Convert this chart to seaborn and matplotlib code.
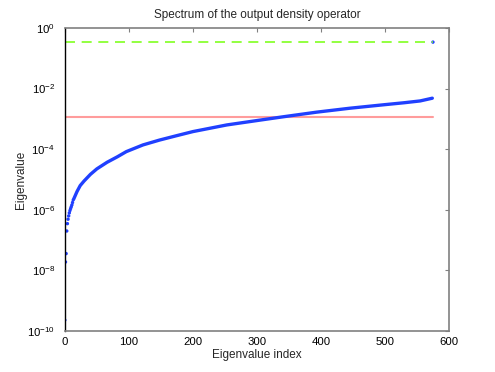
"""Spectrum of the output density operator (log-scale eigenvalue plot)."""

import matplotlib

matplotlib.use("Agg")
import matplotlib.pyplot as plt
import pandas as pd
import seaborn as sns

# isolated small eigenvalues at the start of the spectrum
early_idx = [0, 1, 2, 3, 4, 5, 6, 7, 8, 9, 10, 11, 12]
early_val = [2.3e-10, 1.9e-8, 3.6e-8, 2.0e-7, 3.5e-7, 4.9e-7, 6.3e-7,
             7.9e-7, 9.5e-7, 1.1e-6, 1.26e-6, 1.45e-6, 1.74e-6]

# dense part of the spectrum
curve_idx = [13, 14, 19, 24, 30, 40, 50, 66, 82, 96, 122, 148, 175, 200,
             253, 305, 341, 393, 445, 497, 530, 555, 574]
curve_val = [2.1e-6, 2.3e-6, 4.0e-6, 6.3e-6, 8.9e-6, 1.48e-5, 2.24e-5,
             3.7e-5, 5.6e-5, 8.3e-5, 1.38e-4, 2.0e-4, 2.8e-4, 3.8e-4,
             6.3e-4, 9.1e-4, 1.17e-3, 1.66e-3, 2.24e-3, 2.9e-3, 3.4e-3,
             3.9e-3, 4.8e-3]

# largest eigenvalue
top_idx = [575]
top_val = [0.34]

# reference levels
level_x = [0, 575]
green_level = 0.34
red_level = 1.17e-3

BLUE = "#2040ff"
GREEN = "#80ff20"
RED = "#ff9c9c"


def main() -> None:
    sns.set_theme(style="white")
    plt.rcParams["font.family"] = ["Liberation Sans", "DejaVu Sans"]
    plt.rcParams["mathtext.default"] = "regular"

    fig = plt.figure(figsize=(4.95, 3.72), dpi=100)
    ax = fig.add_axes([0.131, 0.110, 0.776, 0.815])
    ax.set_yscale("log")

    ax.plot(level_x, [green_level, green_level], color=GREEN, lw=1.2,
            ls=(0, (6, 4)))
    ax.plot(level_x, [red_level, red_level], color=RED, lw=1.5)

    curve = pd.DataFrame({"idx": curve_idx, "val": curve_val})
    sns.lineplot(data=curve, x="idx", y="val", ax=ax, color=BLUE, lw=2.4,
                 solid_capstyle="round")
    early = pd.DataFrame({"idx": early_idx, "val": early_val})
    sns.scatterplot(data=early, x="idx", y="val", ax=ax, color=BLUE, s=6,
                    linewidth=0, edgecolor="none")
    top = pd.DataFrame({"idx": top_idx, "val": top_val})
    sns.scatterplot(data=top, x="idx", y="val", ax=ax, color=BLUE, s=6,
                    linewidth=0, edgecolor="none")

    ax.set_xlim(0, 600)
    ax.set_ylim(1e-10, 1e0)
    ax.set_xticks([0, 100, 200, 300, 400, 500, 600])
    ax.set_yticks([1e-10, 1e-8, 1e-6, 1e-4, 1e-2, 1e0])
    ax.minorticks_off()
    ax.tick_params(direction="in", length=3, width=0.8, labelsize=8.2,
                   top=True, right=True, colors="#808080",
                   labelcolor="black", pad=4)
    ax.tick_params(axis="y", pad=7)

    for side in ["top", "right", "bottom"]:
        ax.spines[side].set_color("#808080")
        ax.spines[side].set_linewidth(1.2)
    ax.spines["left"].set_color("black")
    ax.spines["left"].set_linewidth(1.0)

    ax.set_title("Spectrum of the output density operator", fontsize=8.5,
                 pad=7)
    ax.set_xlabel("Eigenvalue index", fontsize=8.5, labelpad=2)
    ax.set_ylabel("Eigenvalue", fontsize=8.5, labelpad=0)

    fig.savefig("out.png", dpi=100)
    plt.close(fig)


if __name__ == "__main__":
    main()
